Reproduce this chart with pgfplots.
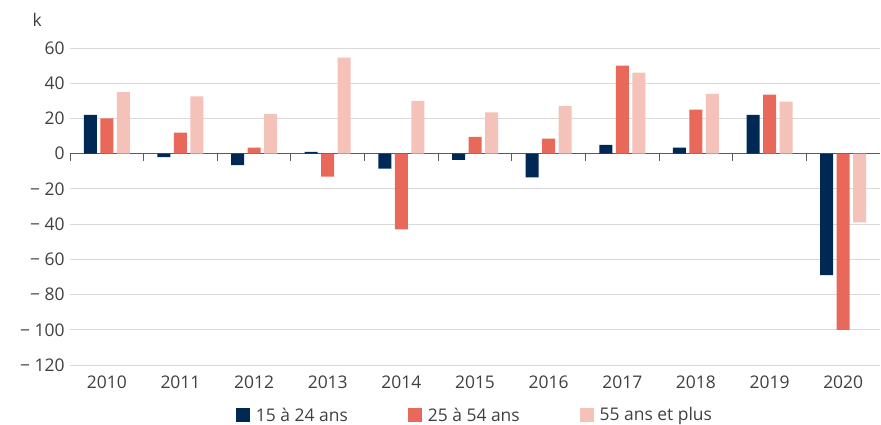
\documentclass[border=0pt]{standalone}
\usepackage{pgfplots}
\pgfplotsset{compat=1.18}
\usepackage{fontspec}
\setmainfont{Open Sans}
\definecolor{navy}{RGB}{0,40,85}
\definecolor{coral}{RGB}{232,105,90}
\definecolor{blush}{RGB}{245,194,186}
\definecolor{txt}{RGB}{64,64,64}
\definecolor{gridc}{RGB}{217,217,217}
\definecolor{zeroc}{RGB}{90,90,90}
\begin{document}
\begin{tikzpicture}
\begin{axis}[
  scale only axis,
  width=810bp, height=317bp,
  xmin=-0.5, xmax=10.5,
  ymin=-120, ymax=60,
  ybar, bar width=13bp,
  axis line style={draw=none},
  xtick={0,...,10},
  xticklabels={2010,2011,2012,2013,2014,2015,2016,2017,2018,2019,2020},
  ytick={-120,-100,...,60},
  yticklabels={− 120,− 100,− 80,− 60,− 40,− 20,0,20,40,60},
  major tick length=0pt,
  ymajorgrids, grid style={gridc, line width=0.8pt},
  extra y ticks={0}, extra y tick labels={},
  extra y tick style={grid style={zeroc, line width=0.9pt}},
  tick label style={font=\fontsize{17.5}{20}\selectfont, text=txt},
  xticklabel style={yshift=-7bp},
  yticklabel style={xshift=-2bp},
  legend columns=3,
  legend style={at={(0.5,-0.158)}, anchor=center, draw=none, fill=none,
    font=\fontsize{17.5}{20}\selectfont, text=txt,
    /tikz/every odd column/.style={column sep=4bp},
    /tikz/every even column/.style={column sep=58bp}},
  legend image code/.code={\fill[#1] (0bp,-7bp) rectangle (14bp,7bp);},
  clip=false,
]
\addplot[fill=navy, draw=none, bar shift=-16.5bp] coordinates {
  (0,22) (1,-2) (2,-6.5) (3,1) (4,-8.5) (5,-3.5) (6,-13.5) (7,5) (8,3.5) (9,22) (10,-69)};
\addplot[fill=coral, draw=none, bar shift=0bp] coordinates {
  (0,20) (1,12) (2,3.5) (3,-13) (4,-43) (5,9.5) (6,8.5) (7,50) (8,25) (9,33.5) (10,-100)};
\addplot[fill=blush, draw=none, bar shift=16.5bp] coordinates {
  (0,35) (1,32.5) (2,22.5) (3,54.5) (4,30) (5,23.5) (6,27) (7,46) (8,34) (9,29.5) (10,-39)};
\legend{15 à 24 ans, 25 à 54 ans, 55 ans et plus}
\pgfplotsinvokeforeach{-0.5,0.5,...,9.5}{
  \draw[zeroc, line width=0.9pt] (axis cs:#1,0) -- ([yshift=-7bp]axis cs:#1,0);
}
\node[anchor=base west, text=txt, font=\fontsize{17.5}{20}\selectfont]
  at ([xshift=-41bp, yshift=21bp]rel axis cs:0,1) {k};
\coordinate (bl) at (rel axis cs:0,0);
\coordinate (tr) at (rel axis cs:1,1);
\end{axis}
\pgfresetboundingbox
\path[use as bounding box] ([xshift=-70bp,yshift=-60bp]bl) rectangle ([xshift=1bp,yshift=48bp]tr);
\end{tikzpicture}
\end{document}
